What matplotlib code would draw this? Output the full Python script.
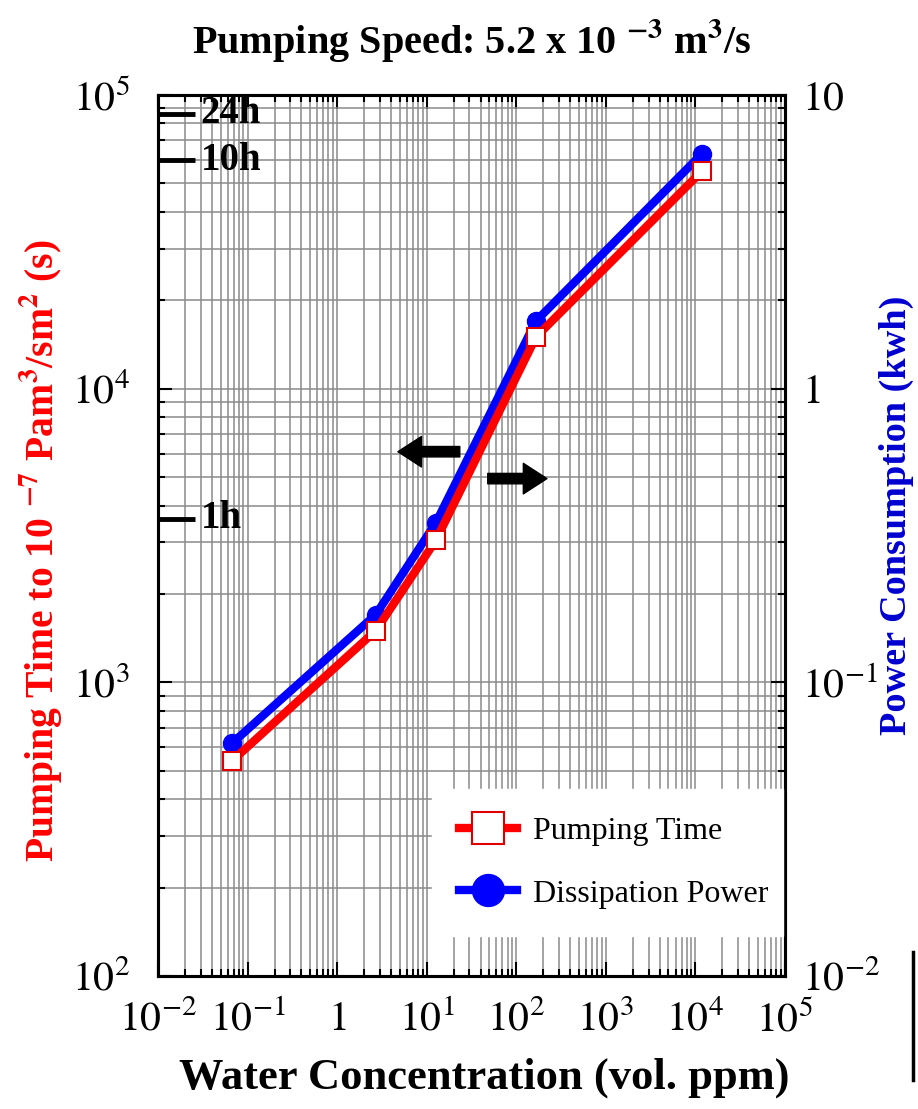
import matplotlib
matplotlib.use("Agg")
import numpy as np
import matplotlib.pyplot as plt
from matplotlib.lines import Line2D
from matplotlib.ticker import LogLocator, NullFormatter

# ---- data ----
water_ppm = [0.067, 2.7, 12.7, 166, 11800]
pumping_time_s = [540, 1500, 3050, 15000, 55000]
power_kwh = [0.062, 0.17, 0.35, 1.7, 6.3]

x_ticks = [1e-2, 1e-1, 1, 1e1, 1e2, 1e3, 1e4, 1e5]
x_ticklabels = ["$10^{-2}$", "$10^{-1}$", "$1$", "$10^{1}$", "$10^{2}$",
                "$10^{3}$", "$10^{4}$", "$10^{5}$"]
left_ticks = [1e2, 1e3, 1e4, 1e5]
left_ticklabels = ["$10^{2}$", "$10^{3}$", "$10^{4}$", "$10^{5}$"]
right_ticks = [1e-2, 1e-1, 1, 10]
right_ticklabels = ["$10^{-2}$", "$10^{-1}$", "$1$", "$10$"]

hour_marks = ["24h", "10h", "1h"]
hour_values = [86400, 60000, 3600]

plt.rcParams["font.family"] = ["Liberation Serif", "DejaVu Serif"]
plt.rcParams["mathtext.fontset"] = "stix"

fig = plt.figure(figsize=(9.18, 11.09), dpi=100)
# ax: bottom axes (power, right axis) ; ax2: top axes (pumping time, left axis)
ax = fig.add_axes([158/918, 1-976/1109, (785-158)/918, (976-95)/1109])
ax2 = ax.twinx()
ax.yaxis.tick_right()
ax.yaxis.set_label_position("right")
ax2.yaxis.tick_left()
ax2.yaxis.set_label_position("left")

ax.set_xscale("log")
ax.set_yscale("log")
ax2.set_yscale("log")
ax.set_xlim(1e-2, 1e5)
ax.set_ylim(1e-2, 10)
ax2.set_ylim(1e2, 1e5)

minor_subs = np.arange(2, 10)
ax.xaxis.set_minor_locator(LogLocator(base=10, subs=minor_subs, numticks=100))
ax.xaxis.set_minor_formatter(NullFormatter())
ax.yaxis.set_minor_locator(LogLocator(base=10, subs=minor_subs, numticks=100))
ax.yaxis.set_minor_formatter(NullFormatter())
ax2.yaxis.set_minor_locator(LogLocator(base=10, subs=minor_subs, numticks=100))
ax2.yaxis.set_minor_formatter(NullFormatter())

ax.set_axisbelow(True)
ax.grid(True, which="both", color="#8a8a8a", lw=1.1)

# blue: dissipation power
ax.plot(water_ppm, power_kwh, color="#0000ff", lw=6, marker="o", ms=13,
        mfc="#0000ff", mec="#0000ff", zorder=3)
# red: pumping time
ax2.plot(water_ppm, pumping_time_s, color="#ff0000", lw=6, marker="s", ms=13,
         mfc="white", mec="#e00000", mew=1.5, zorder=3)

# ticks
ax.set_xticks(x_ticks)
ax.set_xticklabels(x_ticklabels)
ax.set_yticks(right_ticks)
ax.set_yticklabels(right_ticklabels)
ax2.set_yticks(left_ticks)
ax2.set_yticklabels(left_ticklabels)
ax.tick_params(axis="x", which="both", direction="in", top=True, bottom=True,
               labelsize=30, pad=18, width=1.5)
ax.tick_params(axis="x", which="major", length=10)
ax.tick_params(axis="x", which="minor", length=5)
ax.tick_params(axis="y", which="both", direction="in", right=True, left=False,
               labelsize=30, pad=12, width=1.5)
ax.tick_params(axis="y", which="major", length=10)
ax.tick_params(axis="y", which="minor", length=5)
ax2.tick_params(axis="y", which="both", direction="in", labelsize=30, pad=20,
                width=1.5)
ax2.tick_params(axis="y", which="major", length=10)
ax2.tick_params(axis="y", which="minor", length=5)

for a in (ax, ax2):
    for s in a.spines.values():
        s.set_linewidth(2.2)

# labels
ax.set_xlabel("Water Concentration (vol. ppm)", fontsize=32, fontweight="bold")
ax.xaxis.set_label_coords(0.52, -0.092)
ax2.set_ylabel(r"Pumping Time to 10 $^{\mathbf{-7}}$ Pam$^{\mathbf{3}}$/sm$^{\mathbf{2}}$ (s)",
               fontsize=28.5, fontweight="bold", color="#ff0000")
ax2.yaxis.set_label_coords(-0.150, 0.483)
ax.set_ylabel("Power Consumption (kwh)", fontsize=27.5, fontweight="bold",
              color="#0000d0")
ax.yaxis.set_label_coords(1.149, 0.523)
ax.set_title(r"Pumping Speed: 5.2 x 10 $^{\mathbf{-3}}$ m$^{\mathbf{3}}$/s",
             fontsize=29, fontweight="bold", pad=30)

# hour marks on left axis
ytr = ax2.get_yaxis_transform()
for lab, val in zip(hour_marks, hour_values):
    ax2.plot([0, 0.059], [val, val], color="black", lw=3.5, transform=ytr,
             solid_capstyle="butt", zorder=4)
    ax2.text(0.068, val, lab, transform=ytr, fontsize=28, fontweight="bold",
             va="center", ha="left", zorder=4)

# arrows
arrow_style = "simple,head_length=1.7,head_width=2.2,tail_width=0.75"
ax2.annotate("", xy=(4.77, 6100), xytext=(23.4, 6100),
             arrowprops=dict(arrowstyle=arrow_style, mutation_scale=10,
                             color="black", shrinkA=0, shrinkB=0))
ax2.annotate("", xy=(220, 4940), xytext=(48, 4940),
             arrowprops=dict(arrowstyle=arrow_style, mutation_scale=10,
                             color="black", shrinkA=0, shrinkB=0))

# legend
handles = [
    Line2D([], [], color="#ff0000", lw=6, marker="s", ms=23, mfc="white",
           mec="#e00000", mew=1.5),
    Line2D([], [], color="#0000ff", lw=6, marker="o", ms=23, mfc="#0000ff",
           mec="#0000ff"),
]
leg = ax2.legend(handles, ["Pumping Time", "Dissipation Power"],
                 loc="upper left", bbox_to_anchor=(0.437, 0.05, 0.56, 0.162),
                 mode="expand", borderaxespad=0, fontsize=23, frameon=True,
                 fancybox=False, framealpha=1, edgecolor="white",
                 handlelength=1.8, handletextpad=0.5, labelspacing=1.05,
                 borderpad=0.85)
leg.set_zorder(10)

# stray bracket at the lower right edge
fig.add_artist(Line2D([913/918, 913/918], [1-952/1109, 1-1080/1109],
                      transform=fig.transFigure, color="black", lw=2.5))

fig.savefig("out.png", dpi=100)
